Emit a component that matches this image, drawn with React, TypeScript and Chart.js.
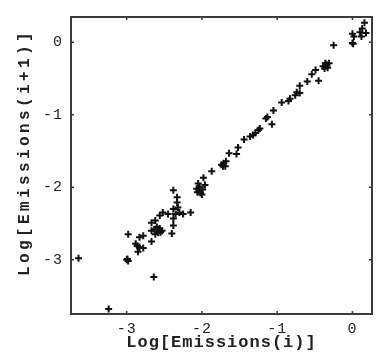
import React, { useEffect, useRef } from "react";
import { Chart, registerables } from "chart.js";

Chart.register(...registerables);

// Log[Emissions(i)]
const emissionsI: number[] = [
  -3.64, -3.24, -2.64, -3.0, -2.98, -2.99, -2.98, -2.88, -2.86, -2.83,
  -2.78, -2.85, -2.83, -2.78, -2.67, -2.67, -2.63, -2.6, -2.58, -2.56,
  -2.62, -2.6, -2.67, -2.62, -2.56, -2.52, -2.45, -2.38, -2.4, -2.38,
  -2.38, -2.38, -2.33, -2.33, -2.32, -2.3, -2.35, -2.25, -2.15, -2.07,
  -2.05, -2.04, -2.06, -2.02, -2.0, -2.03, -1.99, -1.96, -1.98, -1.87,
  -1.74, -1.71, -1.68, -1.69, -1.72, -1.64, -1.54, -1.52, -1.44, -1.36,
  -1.32, -1.29, -1.25, -1.23, -1.07, -1.15, -1.13, -1.05, -0.94, -0.85,
  -0.83, -0.76, -0.74, -0.7, -0.7, -0.6, -0.54, -0.49, -0.45, -0.39,
  -0.36, -0.33, -0.31, -0.37, -0.34, -0.25, 0.0, 0.01, 0.0, 0.02,
  0.12, 0.1, 0.18, 0.13, 0.16, -2.58, -2.55, -2.53,
];

// Log[Emissions(i+1)]
const emissionsNext: number[] = [
  -2.98, -3.68, -3.24, -3.0, -3.02, -2.99, -2.65, -2.78, -2.81, -2.83,
  -2.84, -2.89, -2.69, -2.67, -2.75, -2.6, -2.58, -2.61, -2.63, -2.57,
  -2.65, -2.55, -2.49, -2.46, -2.39, -2.35, -2.37, -2.3, -2.64, -2.53,
  -2.43, -2.04, -2.14, -2.21, -2.28, -2.35, -2.37, -2.37, -2.35, -2.02,
  -1.95, -2.05, -2.07, -2.08, -2.1, -2.0, -2.03, -1.97, -1.87, -1.78,
  -1.69, -1.67, -1.64, -1.71, -1.71, -1.53, -1.54, -1.45, -1.34, -1.3,
  -1.28, -1.25, -1.21, -1.19, -1.13, -1.05, -1.03, -0.94, -0.83, -0.81,
  -0.78, -0.73, -0.69, -0.7, -0.6, -0.54, -0.44, -0.38, -0.53, -0.33,
  -0.29, -0.35, -0.29, -0.36, -0.31, -0.04, -0.01, -0.02, 0.12, 0.08,
  0.08, 0.14, 0.13, 0.19, 0.27, -2.58, -2.62, -2.6,
];

const xTickValues: number[] = [-3, -2, -1, 0];
const yTickValues: number[] = [-3, -2, -1, 0];
const xTitle = "Log[Emissions(i)]";
const yTitle = "  Log[Emissions(i+1)]";

const frameColor = "#3c3c3c";
const textColor = "#222222";

const spacingPlugin = {
  id: "spacing",
  beforeDraw(chart: any) {
    chart.ctx.letterSpacing = "3.4px";
  },
  afterDatasetsDraw(chart: any) {
    chart.ctx.letterSpacing = "1px";
  },
  afterDraw(chart: any) {
    const { ctx, chartArea, scales } = chart;
    const { left, right, top, bottom } = chartArea;
    ctx.save();
    ctx.letterSpacing = "0px";
    ctx.strokeStyle = frameColor;
    ctx.lineWidth = 2;
    ctx.strokeRect(left, top, right - left, bottom - top);
    ctx.lineWidth = 1.5;
    ctx.beginPath();
    xTickValues.forEach((v) => {
      const px = scales.x.getPixelForValue(v);
      ctx.moveTo(px, bottom);
      ctx.lineTo(px, bottom - 3);
      ctx.moveTo(px, top);
      ctx.lineTo(px, top + 3);
    });
    yTickValues.forEach((v) => {
      const py = scales.y.getPixelForValue(v);
      ctx.moveTo(left, py);
      ctx.lineTo(left + 3, py);
      ctx.moveTo(right, py);
      ctx.lineTo(right - 3, py);
    });
    ctx.stroke();
    ctx.restore();
  },
};

export default function App() {
  const canvasRef = useRef<HTMLCanvasElement | null>(null);

  useEffect(() => {
    if (!canvasRef.current) return;
    const points = emissionsI.map((x, i) => ({ x, y: emissionsNext[i] }));
    const chart = new Chart(canvasRef.current, {
      type: "scatter",
      data: {
        datasets: [
          {
            data: points,
            pointStyle: "cross",
            pointRadius: 3.5,
            pointBorderWidth: 2,
            borderColor: "#111111",
            backgroundColor: "#111111",
          },
        ],
      },
      options: {
        animation: false,
        responsive: true,
        maintainAspectRatio: false,
        layout: { padding: { left: 0, right: 9, top: 14, bottom: 0 } },
        plugins: {
          legend: { display: false },
          tooltip: { enabled: false },
        },
        scales: {
          x: {
            type: "linear",
            min: -3.74,
            max: 0.26,
            grid: { display: false, drawTicks: false, z: 1 },
            border: { display: false },
            afterBuildTicks: (scale: any) => {
              scale.ticks = xTickValues.map((v) => ({ value: v }));
            },
            afterFit: (scale: any) => {
              scale.height = 47;
            },
            ticks: {
              z: 1,
              padding: 6,
              color: textColor,
              maxRotation: 0,
              font: { family: "'Liberation Mono', monospace", size: 15 },
              callback: (v: any) => String(v),
            },
            title: {
              display: true,
              text: xTitle,
              color: textColor,
              padding: { top: 0, bottom: 8 },
              font: { family: "'Liberation Mono', monospace", size: 17, weight: "bold" },
            },
          },
          y: {
            type: "linear",
            min: -3.75,
            max: 0.35,
            grid: { display: false, drawTicks: false },
            border: { display: false },
            afterBuildTicks: (scale: any) => {
              scale.ticks = yTickValues.map((v) => ({ value: v }));
            },
            afterFit: (scale: any) => {
              scale.width = 71;
            },
            ticks: {
              z: 1,
              padding: 8,
              color: textColor,
              font: { family: "'Liberation Mono', monospace", size: 15 },
              callback: (v: any) => String(v),
            },
            title: {
              display: true,
              text: yTitle,
              color: textColor,
              padding: { top: 15.4, bottom: 0 },
              font: { family: "'Liberation Mono', monospace", size: 16, weight: "bold" },
            },
          },
        },
      },
      plugins: [spacingPlugin],
    } as any);
    return () => chart.destroy();
  }, []);

  return (
    <div style={{ position: "fixed", left: 0, top: 0, width: 381, height: 361, background: "#ffffff" }}>
      <canvas ref={canvasRef} />
    </div>
  );
}
